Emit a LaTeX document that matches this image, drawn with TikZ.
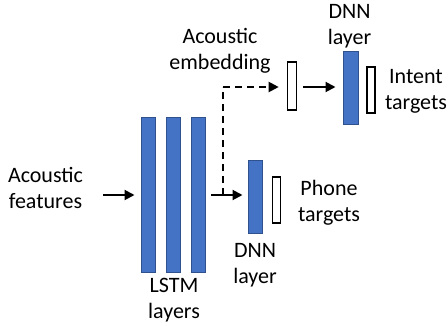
\documentclass[tikz,border=0pt]{standalone}
\usepackage{fontspec}
\setmainfont{Carlito}
\usetikzlibrary{arrows.meta}
\definecolor{barblue}{HTML}{4472C4}
\definecolor{baredge}{HTML}{2F528F}
\tikzset{
  bar/.style={draw=baredge, fill=barblue, line width=1pt, inner sep=0pt, minimum width=14pt},
  tgt/.style={draw=black, fill=white, line width=1.6pt, inner sep=0pt, minimum width=8pt},
  lbl/.style={align=center, inner sep=0pt, font=\fontsize{22}{26}\selectfont},
  arr/.style={line width=2pt, -{Triangle[length=10pt,width=10pt]}},
  dsh/.style={line width=2pt, dash pattern=on 7pt off 5pt}
}
\begin{document}
\begin{tikzpicture}[x=1pt,y=-1pt]
\useasboundingbox (0,0) rectangle (448,325);
% LSTM bars
\node[bar, minimum height=155pt] (l1) at (148,194.5) {};
\node[bar, minimum height=155pt] (l2) at (173,194.5) {};
\node[bar, minimum height=155pt] (l3) at (198.5,194.5) {};
% DNN phone
\node[bar, minimum height=73pt] (dp) at (255,196.5) {};
\node[tgt, minimum height=46pt] (pt) at (276.5,200) {};
% embedding
\node[tgt, minimum height=48pt, minimum width=9pt] (emb) at (292,86) {};
\node[bar, minimum height=73pt, minimum width=15pt] (di) at (350.5,87.5) {};
\node[tgt, minimum height=46pt] (it) at (371,90) {};
% labels
\node[lbl] (laf) at (45.5,187.5) {Acoustic\\features};
\node[lbl] (llstm) at (174,300) {LSTM\\layers};
\node[lbl] (ldp) at (255,265.5) {DNN\\layer};
\node[lbl] (ldi) at (349.5,26.5) {DNN\\layer};
\node[lbl] (lemb) at (220,50.5) {Acoustic\\embedding};
\node[lbl] (lpt) at (329,202.5) {Phone\\targets};
\node[lbl] (lit) at (416,91.5) {Intent\\targets};
% coordinates
\coordinate (inS) at (103,195);
\coordinate (outS) at (211,195);
\coordinate (split) at (223,195);
\coordinate (corner) at (223,87);
% arrows
\draw[arr] (inS) -- ([xshift=-6pt]inS -| l1.west);
\draw[arr] (outS) -- ([xshift=-5pt]outS -| dp.west);
\draw[dsh] (split) -- (corner);
\draw[arr, dsh] (corner) -- ([xshift=-8pt]corner -| emb.west);
\draw[arr] ([xshift=6pt]emb.east |- corner) -- ([xshift=-7pt]di.west |- corner);
\end{tikzpicture}
\end{document}
